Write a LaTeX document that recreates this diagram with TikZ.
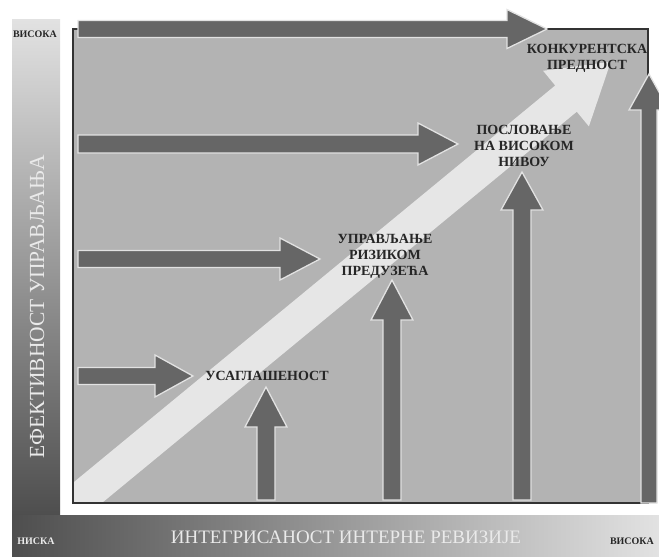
\documentclass[tikz,border=0pt]{standalone}
\usepackage{fontspec}
\setmainfont{Liberation Serif}
\definecolor{panelgray}{HTML}{B3B3B3}
\definecolor{arrowdark}{HTML}{666666}
\definecolor{arrowedge}{HTML}{E2E2E2}
\definecolor{diaglight}{HTML}{E6E6E6}
\definecolor{framedark}{HTML}{333333}
\definecolor{labeldark}{HTML}{262626}
\definecolor{bandlight}{HTML}{E2E2E2}
\definecolor{banddark}{HTML}{4E4E4E}
\definecolor{bandtext}{HTML}{EAEAEA}
\tikzset{
  fatarrow/.style={fill=arrowdark, draw=arrowedge, line width=1.3pt, line join=miter},
  steplabel/.style={font=\fontsize{14}{16}\selectfont\bfseries, text=labeldark, align=center, inner sep=0pt},
  scalelabel/.style={font=\fontsize{10}{12}\selectfont\bfseries, inner sep=0pt},
  axislabel/.style={text=bandtext, inner sep=0pt}
}
% horizontal arrow: #1 start x, #2 head base x, #3 tip x, #4 centre y, #5 bar half, #6 head half
\newcommand\myHArrow[6]{%
  \draw[fatarrow] (#1,#4-#5) -- (#2,#4-#5) -- (#2,#4-#6) -- (#3,#4) -- (#2,#4+#6) -- (#2,#4+#5) -- (#1,#4+#5) -- cycle;}
% vertical arrow: #1 bottom y, #2 head base y, #3 tip y, #4 centre x, #5 bar half, #6 head half
\newcommand\myVArrow[6]{%
  \draw[fatarrow] (#4-#5,#1) -- (#4-#5,#2) -- (#4-#6,#2) -- (#4,#3) -- (#4+#6,#2) -- (#4+#5,#2) -- (#4+#5,#1) -- cycle;}
\begin{document}
\begin{tikzpicture}[x=1pt,y=-1pt]
\useasboundingbox (0,0) rectangle (659,557);
% gradient bands
\shade[top color=bandlight, bottom color=banddark] (12,19) rectangle (60,515);
\shade[left color=banddark, right color=bandlight] (12,515) rectangle (659,556);
% panel
\fill[panelgray] (73,29) rectangle (648,503);
% diagonal arrow
\begin{scope}
  \clip (73,29) rectangle (648,503);
  \fill[diaglight] (-20.8,560.1) -- (555.2,85.5) -- (543.1,70.8) -- (610.8,61.7)
      -- (588.9,126.4) -- (576.8,111.7) -- (0.8,586.3) -- cycle;
\end{scope}
\draw[framedark, line width=1.6pt] (73,29) rectangle (648,503);
% horizontal arrows
\myHArrow{78}{507}{547}{29}{8.5}{19.5}
\myHArrow{78}{418}{458}{144}{9}{21}
\myHArrow{78}{280}{320}{259}{8.5}{21}
\myHArrow{78}{155}{193}{376}{8.5}{21}
% vertical arrows
\myVArrow{500}{427}{387}{266}{9}{21}
\myVArrow{500}{320}{280}{392}{9}{21}
\myVArrow{500}{210}{172}{522}{9}{21}
\myVArrow{503}{110}{74}{649}{8}{20}
% step labels
\node[steplabel] (konk) at (587,58) {КОНКУРЕНТСКА\\ПРЕДНОСТ};
\node[steplabel] (posl) at (524,146) {ПОСЛОВАЊЕ\\НА ВИСОКОМ\\НИВОУ};
\node[steplabel] (uprav) at (385,256) {УПРАВЉАЊЕ\\РИЗИКОМ\\ПРЕДУЗЕЋА};
\node[steplabel] (usag) at (267,376) {УСАГЛАШЕНОСТ};
% scale labels
\node[scalelabel, text=labeldark] (vtop) at (35,34) {ВИСОКА};
\node[scalelabel, text=bandtext] (nlow) at (36,541) {НИСКА};
\node[scalelabel, text=labeldark] (hhigh) at (632,541) {ВИСОКА};
% axis labels
\node[axislabel, rotate=90, font=\fontsize{21.5}{24}\selectfont] (yaxis) at (37,307) {ЕФЕКТИВНОСТ УПРАВЉАЊА};
\node[axislabel, font=\fontsize{19}{22}\selectfont] (xaxis) at (346,537) {ИНТЕГРИСАНОСТ ИНТЕРНЕ РЕВИЗИЈЕ};
\end{tikzpicture}
\end{document}
